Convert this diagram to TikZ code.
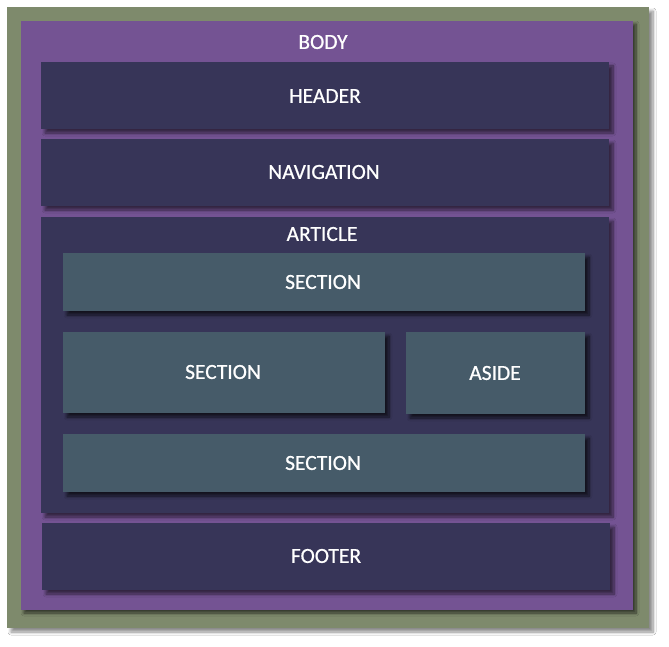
\documentclass[tikz,border=0pt]{standalone}
\usepackage{fontspec}
\setmainfont{Carlito}
\newfontfamily\lblfont{Carlito}[FakeBold=0.7]
\usetikzlibrary{shadows.blur}
\definecolor{gbg}{HTML}{7E8A6C}
\definecolor{pbg}{HTML}{745393}
\definecolor{nbg}{HTML}{373558}
\definecolor{sbg}{HTML}{465B69}
\tikzset{
  outerbox/.style={fill=gbg, draw=none, blur shadow={shadow xshift=4pt, shadow yshift=-4pt, shadow blur radius=3pt, shadow opacity=45, shadow blur steps=8}},
  bodybox/.style={fill=pbg, draw=none, blur shadow={shadow xshift=3pt, shadow yshift=-3pt, shadow blur radius=3pt, shadow opacity=60, shadow blur steps=8}},
  navybox/.style={fill=nbg, draw=none, blur shadow={shadow xshift=4pt, shadow yshift=-4pt, shadow blur radius=3pt, shadow opacity=55, shadow blur steps=8}},
  slatebox/.style={fill=sbg, draw=none, blur shadow={shadow xshift=4pt, shadow yshift=-4pt, shadow blur radius=3pt, shadow opacity=65, shadow blur steps=8}},
  lbl/.style={text=white, font=\lblfont\fontsize{21.5}{24}\selectfont, inner sep=0pt},
}
\begin{document}
\begin{tikzpicture}[x=1pt,y=-1pt]
\useasboundingbox (0,0) rectangle (669,647);
\fill[white] (0,0) rectangle (669,647);
\path[outerbox] (7,7) rectangle (649,628);
\path[bodybox] (21,21) rectangle (633,610);
\path[navybox] (41,62) rectangle (609,129);
\path[navybox] (41,139) rectangle (609,206);
\path[navybox] (41,217) rectangle (609,513);
\path[slatebox] (63,253) rectangle (585,311);
\path[slatebox] (63,332) rectangle (385,413);
\path[slatebox] (406,332) rectangle (585,414);
\path[slatebox] (63,434) rectangle (585,492);
\path[navybox] (42,523) rectangle (610,590);
\node[lbl] (body) at (323,42) {BODY};
\node[lbl] (header) at (325,96) {HEADER};
\node[lbl] (nav) at (324,172) {NAVIGATION};
\node[lbl] (article) at (322,234) {ARTICLE};
\node[lbl] (sec1) at (323,282) {SECTION};
\node[lbl] (sec2) at (223,372) {SECTION};
\node[lbl] (aside) at (495,373) {ASIDE};
\node[lbl] (sec3) at (323,463) {SECTION};
\node[lbl] (footer) at (326,556) {FOOTER};
\end{tikzpicture}
\end{document}
